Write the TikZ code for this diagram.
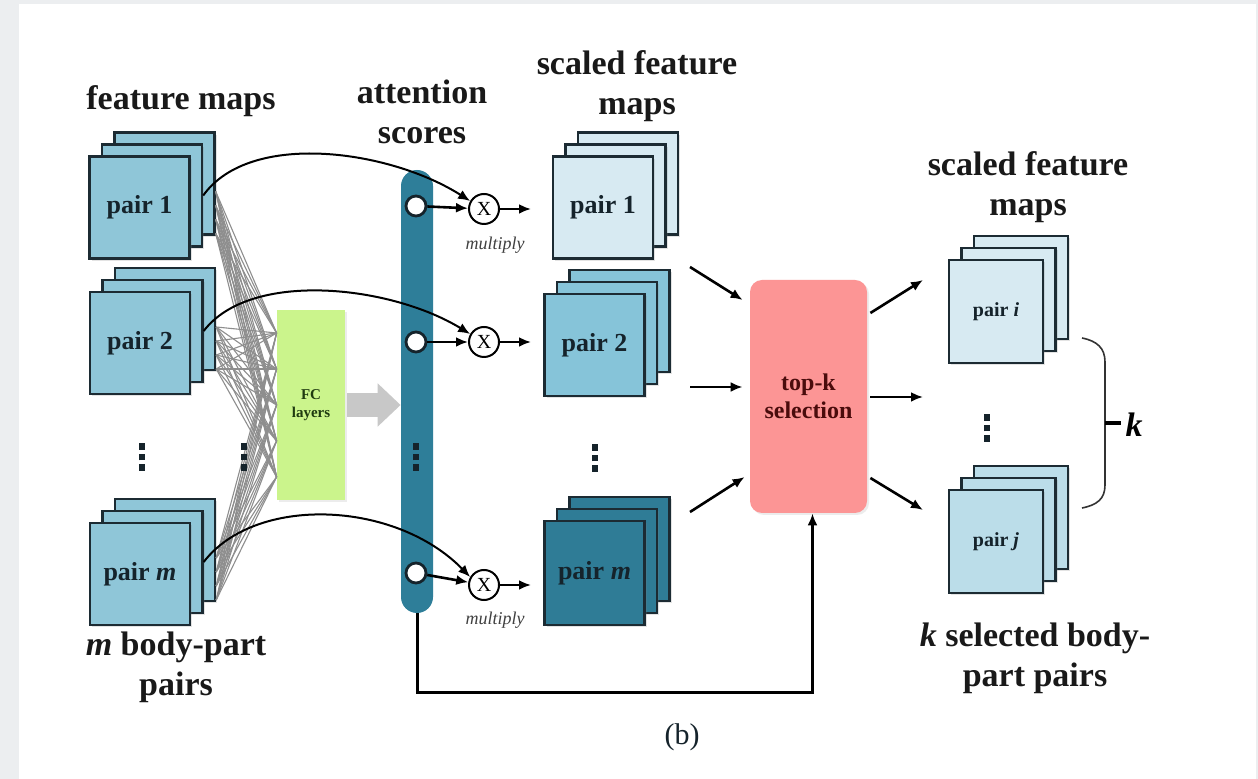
\documentclass[tikz,border=0pt]{standalone}
\usepackage{fontspec}
\setmainfont{Liberation Serif}
\usetikzlibrary{arrows.meta,shadows,calc}

\definecolor{pagegrey}{HTML}{ECEEF0}
\definecolor{stackline}{HTML}{1C2B33}
\definecolor{stackmid}{HTML}{8FC6D8}
\definecolor{stacklight}{HTML}{86C4D9}
\definecolor{stackpale}{HTML}{D7EAF2}
\definecolor{stackdark}{HTML}{2F7C96}
\definecolor{stacksoft}{HTML}{BBDDE9}
\definecolor{barteal}{HTML}{2E7E99}
\definecolor{fcgreen}{HTML}{CBF48C}
\definecolor{fctext}{HTML}{1F3A10}
\definecolor{topkred}{HTML}{FC9595}
\definecolor{topktext}{HTML}{4A0C0C}
\definecolor{fangrey}{HTML}{8E8E8E}
\definecolor{blockgrey}{HTML}{C8C8C8}
\definecolor{inkdark}{HTML}{15232B}

% three heavy dots stacked vertically
\newcommand{\heavyvdots}{\vbox{\offinterlineskip\hbox{\rule{3pt}{3.4pt}}\vskip1.8pt\hbox{\rule{3pt}{3.4pt}}\vskip1.8pt\hbox{\rule{3pt}{3.4pt}}}}

% a stack of three feature maps: name, x, y (front centre), width, height, fill, label, label size
\newcommand{\mapstack}[8]{%
  \node[layer, fill=#6, minimum width=#4, minimum height=#5] (#1c) at ({#2+25},{#3-24}) {};
  \node[layer, fill=#6, minimum width=#4, minimum height=#5] (#1b) at ({#2+12.5},{#3-12}) {};
  \node[layer, fill=#6, minimum width=#4, minimum height=#5,
        font=\fontsize{#8}{#8}\selectfont\bfseries] (#1) at (#2,#3) {#7};
}

\tikzset{
  title/.style={font=\fontsize{17}{20}\selectfont\bfseries, align=center, inner sep=0pt, text=black!90},
  layer/.style={draw=stackline, line width=1.2pt, inner sep=0pt, text=inkdark,
    drop shadow={opacity=0.22, shadow xshift=1.2pt, shadow yshift=-1.2pt}},
  fcbox/.style={fill=fcgreen, minimum width=34pt, minimum height=95pt, inner sep=0pt,
    align=center, text=fctext, font=\fontsize{7.5}{9}\selectfont\bfseries,
    drop shadow={opacity=0.15, shadow xshift=1pt, shadow yshift=-1pt}},
  scorebar/.style={fill=barteal, minimum width=16pt, minimum height=221.5pt,
    rounded corners=8pt, inner sep=0pt},
  score/.style={circle, draw=inkdark, fill=white, line width=1.4pt, minimum size=10pt, inner sep=0pt},
  mul/.style={circle, draw=black, fill=white, line width=1pt, minimum size=15pt, inner sep=0pt,
    font=\fontsize{10}{10}\selectfont},
  multxt/.style={font=\fontsize{9}{9}\selectfont\itshape, text=black!75, inner sep=0pt},
  topkbox/.style={fill=topkred, minimum width=58.5pt, minimum height=116.5pt, rounded corners=6pt,
    inner sep=0pt, align=center, text=topktext, font=\fontsize{12}{14}\selectfont\bfseries,
    drop shadow={opacity=0.15, shadow xshift=1pt, shadow yshift=-1pt}},
  arr/.style={line width=1.3pt, -{Latex[length=6pt,width=5pt]}},
  curvearr/.style={line width=1pt, -{Latex[length=6pt,width=5pt]}},
  fan/.style={draw=fangrey, line width=0.55pt},
  feedback/.style={line width=1.5pt, -{Latex[length=6pt,width=5pt]}},
  bracket/.style={draw=black!80, line width=0.8pt},
  dotcol/.style={inner sep=0pt, text=inkdark},
}

\begin{document}
\begin{tikzpicture}[x=0.5pt, y=-0.5pt]
\useasboundingbox (0,0) rectangle (1258,779);
\fill[pagegrey] (0,0) rectangle (1258,779);
\fill[white] (19,4) rectangle (1256,779);

% ---- column titles ----
\node[title, anchor=base] (tfm) at (181,110) {feature maps};
\node[title] (tatt) at (422,112) {attention\\scores};
\node[title] (tsc) at (637,86) {scaled feature\\maps};
\node[title] (tsel) at (1028,187) {scaled feature\\maps};
\node[title] (tbody) at (176,667) {\textit{m} body-part\\pairs};
\node[title] (tks) at (1035,658) {\textit{k} selected body-\\part pairs};

% ---- input feature maps ----
\mapstack{L1}{139.5}{207.5}{50pt}{51pt}{stackmid}{pair 1}{13}
\mapstack{L2}{140}{343}{50pt}{51pt}{stackmid}{pair 2}{13}
\mapstack{Lm}{140}{574}{50pt}{51pt}{stackmid}{pair \textit{m}}{13}

% ---- FC layers fed by every pair ----
\node[fcbox] (fc) at (311,405) {FC\\layers};
\foreach \s in {L1,L2,Lm}
  \foreach \a in {-4,-11,-18,-25}
    \foreach \b in {36,18,0,-18,-36}
      \draw[fan] ([yshift=\a pt]\s c.east) -- ([yshift=\b pt]fc.west);

\node[dotcol] (dL) at (142,457) {\heavyvdots};
\node[dotcol] (dF) at (244,457) {\heavyvdots};

% ---- attention score bar ----
\node[scorebar] (bar) at (417,391.5) {};
\draw[line width=12pt, draw=blockgrey, -{Triangle[length=11.5pt,width=21pt]}]
  ([xshift=1pt]fc.east) -- (bar.west |- fc.east);
\node[score] (s1) at (416,206) {};
\node[score] (s2) at (416,342) {};
\node[score] (sm) at (416,573) {};
\node[dotcol] (dB) at (416,457) {\heavyvdots};

% ---- multiplication ----
\node[mul] (x1) at (484,209) {X};
\node[mul] (x2) at (484,342) {X};
\node[mul] (xm) at (484,585) {X};
\node[multxt] (ml1) at (495,245) {multiply};
\node[multxt] (mlm) at (495,620) {multiply};

\draw[arr] (s1) -- (x1);
\draw[arr] (s2) -- (x2);
\draw[arr] (sm) -- (xm);

\draw[curvearr] (L1b.east) .. controls (250,130) and (390,150) .. (x1.150);
\draw[curvearr] (L2b.east) .. controls (250,270) and (390,285) .. (x2.150);
\draw[curvearr] (Lmb.east) .. controls (255,495) and (395,500) .. (xm.150);

\coordinate (o1) at (531,209);
\coordinate (o2) at (531,342);
\coordinate (om) at (531,585);
\draw[arr] (x1) -- (o1);
\draw[arr] (x2) -- (o2);
\draw[arr] (xm) -- (om);

% ---- scaled feature maps ----
\mapstack{M1}{603}{207.5}{50pt}{51pt}{stackpale}{pair 1}{13}
\mapstack{M2}{594.5}{345}{50pt}{51pt}{stacklight}{pair 2}{13}
\mapstack{Mm}{594.5}{573}{50pt}{52pt}{stackdark}{pair \textit{m}}{13}
\node[dotcol] (dM) at (595,458) {\heavyvdots};

% ---- top-k selection ----
\node[topkbox] (topk) at (808.5,396.5) {top-k\\selection};

\coordinate (i1) at (690,267);
\coordinate (i2) at (690,387);
\coordinate (i3) at (690,512);
\draw[arr] (i1) -- ([shift={(-7,-96.5)}]topk.west);
\draw[arr] (i2) -- ([shift={(-7,-9.5)}]topk.west);
\draw[arr] (i3) -- ([shift={(-5,80.5)}]topk.west);

\coordinate (q1) at (923,280);
\coordinate (q2) at (923,397);
\coordinate (q3) at (923,510);
\draw[arr] ([shift={(3,-83.5)}]topk.east) -- (q1);
\draw[arr] ([shift={(3,0.5)}]topk.east) -- (q2);
\draw[arr] ([shift={(3,81.5)}]topk.east) -- (q3);

\draw[feedback] (bar.south) -- ++(0,79) -| ([xshift=2pt]topk.south);

% ---- selected pairs ----
\mapstack{R1}{996}{311.5}{47pt}{51.5pt}{stackpale}{pair \textit{i}}{10}
\mapstack{Rj}{996}{541.5}{47pt}{51.5pt}{stacksoft}{pair \textit{j}}{10}
\node[dotcol] (dR) at (987,428) {\heavyvdots};

\node[font=\fontsize{17}{17}\selectfont\bfseries\itshape, inner sep=0pt] (klab) at (1134,425) {k};
\draw[bracket] (1082,338) .. controls (1097,341) and (1105,348) .. (1105,362)
  -- (1105,485) .. controls (1105,499) and (1097,505) .. (1082,508);
\draw[line width=2pt, shorten >=2pt] (1105,423) -- (klab.west |- 0,423);

\node[font=\fontsize{15}{15}\selectfont, text=inkdark] (cap) at (682,737) {(b)};
\end{tikzpicture}
\end{document}
